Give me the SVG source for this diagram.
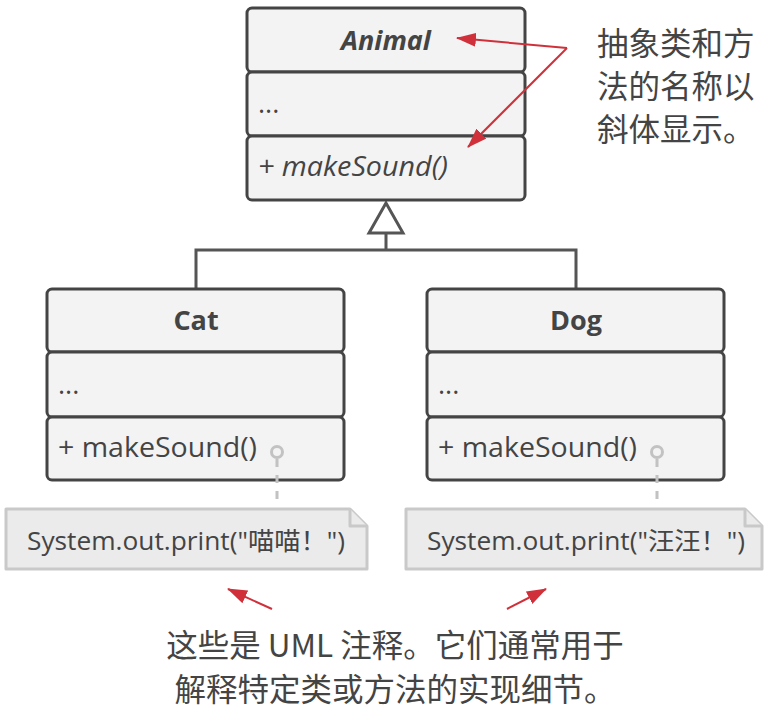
<svg xmlns="http://www.w3.org/2000/svg" width="766" height="709" viewBox="0 0 766 709">
<style>
.box{fill:#f3f3f3;stroke:#444;stroke-width:3}
.t{font-family:"Open Sans","Noto Sans CJK SC",sans-serif;fill:#444}
.title{font-size:27px;font-weight:bold;text-anchor:middle}
.mem{font-size:27px}
.note{fill:#ebebeb;stroke:#c9c9c9;stroke-width:3;stroke-linejoin:round}
.nt{font-size:25px}
.cjk{font-family:"Noto Sans CJK SC",sans-serif;fill:#444;font-size:31.5px}
.conn{fill:none;stroke:#555;stroke-width:3}
.red{fill:none;stroke:#d0303a;stroke-width:2}
.anchor{fill:#f3f3f3;stroke:#c2c2c2;stroke-width:3}
.dash{stroke:#c2c2c2;stroke-width:3;stroke-dasharray:8 8}
</style>
<defs>
<marker id="ah" markerUnits="userSpaceOnUse" markerWidth="20" markerHeight="14" refX="19" refY="7" orient="auto">
<path d="M0,0 L20,7 L0,14 z" fill="#d0303a"/>
</marker>
</defs>
<g id="connectors">
<path class="conn" d="M386,233 V250 M196,288 V250 H576 V288"/>
<polygon points="386,203 369,233 403,233" fill="#fff" stroke="#555" stroke-width="3" stroke-linejoin="miter"/>
</g>
<g id="animal">
<rect class="box" x="247" y="8" width="278" height="64" rx="5"/>
<rect class="box" x="247" y="72" width="278" height="64" rx="5"/>
<rect class="box" x="247" y="136" width="278" height="64" rx="5"/>
<text class="t title" x="386" y="50" font-style="italic">Animal</text>
<text class="t mem" x="258" y="113">...</text>
<text class="t mem" x="258" y="176" font-style="italic" textLength="190" lengthAdjust="spacingAndGlyphs">+ makeSound()</text>
</g>
<g id="cat">
<rect class="box" x="47" y="289" width="297" height="63" rx="5"/>
<rect class="box" x="47" y="352" width="297" height="65" rx="5"/>
<rect class="box" x="47" y="417" width="297" height="63" rx="5"/>
<text class="t title" x="196" y="330">Cat</text>
<text class="t mem" x="58" y="394">...</text>
<text class="t mem" x="58" y="457" textLength="199" lengthAdjust="spacingAndGlyphs">+ makeSound()</text>
</g>
<g id="dog">
<rect class="box" x="427" y="289" width="297" height="63" rx="5"/>
<rect class="box" x="427" y="352" width="297" height="65" rx="5"/>
<rect class="box" x="427" y="417" width="297" height="63" rx="5"/>
<text class="t title" x="576" y="330">Dog</text>
<text class="t mem" x="438" y="394">...</text>
<text class="t mem" x="438" y="457" textLength="199" lengthAdjust="spacingAndGlyphs">+ makeSound()</text>
</g>
<g id="note-links">
<line class="dash" x1="277" y1="459" x2="277" y2="507"/>
<circle class="anchor" cx="277" cy="452" r="5.5"/>
<line class="dash" x1="657" y1="459" x2="657" y2="507"/>
<circle class="anchor" cx="657" cy="452" r="5.5"/>
</g>
<g id="cat-note">
<path class="note" d="M6,509 H350 L367,526 V569 H6 Z"/>
<path class="note" d="M350,509 V526 H367"/>
<text class="t nt" x="27" y="550" textLength="318" lengthAdjust="spacingAndGlyphs">System.out.print("喵喵！")</text>
</g>
<g id="dog-note">
<path class="note" d="M406,509 H745 L762,526 V569 H406 Z"/>
<path class="note" d="M745,509 V526 H762"/>
<text class="t nt" x="427" y="550" textLength="318" lengthAdjust="spacingAndGlyphs">System.out.print("汪汪！")</text>
</g>
<g id="annotations">
<line class="red" x1="567" y1="48" x2="457" y2="38" marker-end="url(#ah)"/>
<line class="red" x1="567" y1="48" x2="468" y2="147" marker-end="url(#ah)"/>
<line class="red" x1="272" y1="609" x2="228" y2="589" marker-end="url(#ah)"/>
<line class="red" x1="507" y1="609" x2="546" y2="589" marker-end="url(#ah)"/>
</g>
<g id="label-top">
<text class="cjk" x="597" y="55">抽象类和方</text>
<text class="cjk" x="597" y="98">法的名称以</text>
<text class="cjk" x="597" y="141">斜体显示。</text>
</g>
<g id="label-bottom">
<text class="cjk" x="395" y="657" text-anchor="middle">这些是 UML 注释。它们通常用于</text>
<text class="cjk" x="395" y="701" text-anchor="middle">解释特定类或方法的实现细节。</text>
</g>
</svg>
